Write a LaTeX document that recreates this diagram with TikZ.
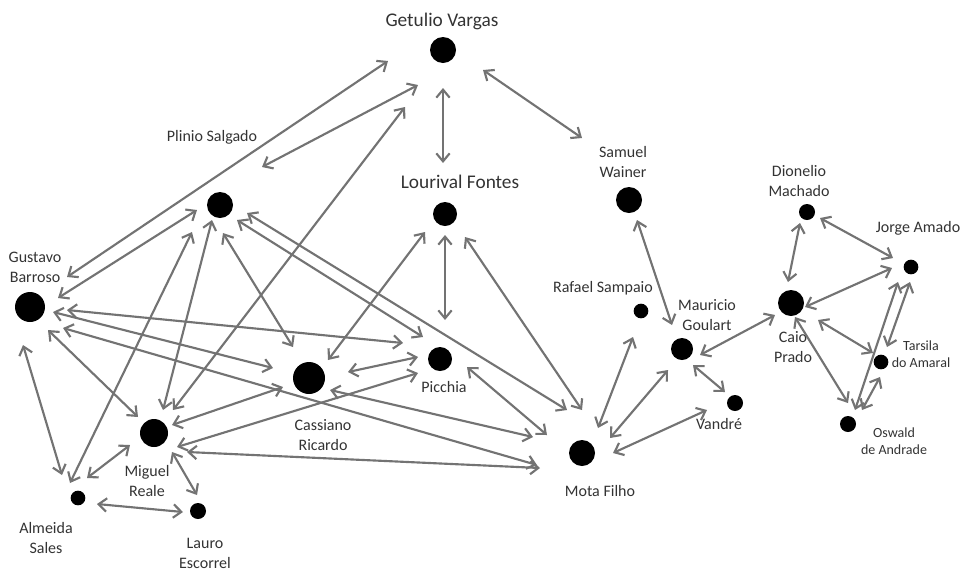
\documentclass[tikz,border=0pt]{standalone}
\usepackage{fontspec}
\setmainfont{Carlito}
\usetikzlibrary{arrows.meta,calc}
\definecolor{edgegray}{HTML}{737373}
\definecolor{txtgray}{HTML}{333333}
\begin{document}
\begin{tikzpicture}[x=0.75pt,y=-0.75pt,
  dot/.style={circle,fill=black,inner sep=0pt,minimum size=#1},
  lbl/.style={text=txtgray,font=\fontsize{12}{15}\selectfont,align=center,inner sep=0pt},
  big/.style={text=txtgray,font=\fontsize{14.5}{17}\selectfont,inner sep=0pt},
  small/.style={text=txtgray,font=\fontsize{10.5}{12.75}\selectfont,align=center,inner sep=0pt},
  bi/.style={draw=edgegray,line width=1.6pt,{Straight Barb[length=6pt,width=10pt]}-{Straight Barb[length=6pt,width=10pt]}}]
\useasboundingbox (0,0) rectangle (962,572);
% dots
\node[dot=19.5pt] (gv) at (443,50) {};
\node[dot=18pt]   (lf) at (445,214) {};
\node[dot=19.5pt] (ps) at (220,205) {};
\node[dot=22.5pt] (gb) at (30,307) {};
\node[dot=24pt]   (cr) at (309,378) {};
\node[dot=18pt]   (pi) at (440,359) {};
\node[dot=21pt]   (mr) at (154,433) {};
\node[dot=11pt]   (as) at (78,498) {};
\node[dot=12pt]   (le) at (198,511) {};
\node[dot=19.5pt] (mf) at (582,453) {};
\node[dot=19.5pt] (sw) at (629,200) {};
\node[dot=11pt]   (rs) at (641,311) {};
\node[dot=16.5pt] (mg) at (682,349) {};
\node[dot=12pt]   (va) at (735,403) {};
\node[dot=19.5pt] (cp) at (791,303) {};
\node[dot=12pt]   (dm) at (807,212) {};
\node[dot=11pt]   (ja) at (911,267) {};
\node[dot=11pt]   (ta) at (881,362) {};
\node[dot=12pt]   (od) at (848,424) {};
% labels
\node[big] (gvl) at (442,21) {Getulio Vargas};
\node[big] (lfl) at (460,182) {Lourival Fontes};
\node[lbl] (psl) at (212,137) {Plinio Salgado};
\node[lbl] (gbl) at (35,267) {Gustavo\\Barroso};
\node[lbl] (crl) at (323,435) {Cassiano\\Ricardo};
\node[lbl] (pil) at (444,387) {Picchia};
\node[lbl] (mrl) at (147,481) {Miguel\\Reale};
\node[lbl] (asl) at (46,538) {Almeida\\Sales};
\node[lbl] (lel) at (205,553) {Lauro\\Escorrel};
\node[lbl] (mfl) at (600,491) {Mota Filho};
\node[lbl] (swl) at (623,162) {Samuel\\Wainer};
\node[lbl] (rsl) at (603,288) {Rafael Sampaio};
\node[lbl] (mgl) at (707,315) {Mauricio\\Goulart};
\node[lbl] (val) at (719,424) {Vandré};
\node[lbl] (cpl) at (793,347) {Caio\\Prado};
\node[lbl] (dml) at (799,181) {Dionelio\\Machado};
\node[lbl] (jal) at (918,228) {Jorge Amado};
\node[small] (tal) at (921,354) {Tarsila\\do Amaral};
\node[small] (odl) at (894,441) {Oswald\\de Andrade};
% connectors
\draw[bi] ($(gv)+(0,38)$) -- ($(lf)+(-2,-51)$);
\draw[bi] ($(gv)+(40,20)$) -- ($(sw)+(-47,-62)$);
\draw[bi] ($(gv)+(-25,35)$) -- ($(ps)+(42,-38)$);
\draw[bi] ($(gv)+(-55,11)$) -- ($(gb)+(37,-30)$);
\draw[bi] ($(gv)+(-38,57)$) -- ($(mr)+(19,-23)$);
\draw[bi] ($(gb)+(28,-9)$) -- ($(ps)+(-23,5)$);
\draw[bi] ($(ps)+(-28,27)$) -- ($(as)+(-8,-15)$);
\draw[bi] ($(ps)+(-8,15)$) -- ($(mr)+(9,-23)$);
\draw[bi] ($(ps)+(3,28)$) -- ($(cr)+(-16,-31)$);
\draw[bi] ($(ps)+(17,15)$) -- ($(pi)+(-17,-22)$);
\draw[bi] ($(ps)+(27,8)$) -- ($(mf)+(-15,-43)$);
\draw[bi] ($(lf)+(-20,18)$) -- ($(cr)+(19,-18)$);
\draw[bi] ($(lf)+(0,21)$) -- ($(pi)+(5,-39)$);
\draw[bi] ($(lf)+(20,23)$) -- ($(mf)+(0,-43)$);
\draw[bi] ($(gb)+(37,3)$) -- ($(pi)+(-37,-16)$);
\draw[bi] ($(gb)+(23,5)$) -- ($(cr)+(-36,-10)$);
\draw[bi] ($(gb)+(33,21)$) -- ($(mf)+(-45,12)$);
\draw[bi] ($(gb)+(18,23)$) -- ($(mr)+(-16,-16)$);
\draw[bi] ($(gb)+(-7,38)$) -- ($(as)+(-16,-23)$);
\draw[bi] ($(cr)+(39,-6)$) -- ($(pi)+(-22,-2)$);
\draw[bi] ($(mr)+(23,14)$) -- ($(pi)+(-22,14)$);
\draw[bi] ($(mr)+(18,-8)$) -- ($(cr)+(-26,9)$);
\draw[bi] ($(mr)+(33,19)$) -- ($(mf)+(-42,15)$);
\draw[bi] ($(cr)+(21,12)$) -- ($(mf)+(-49,-16)$);
\draw[bi] ($(pi)+(27,8)$) -- ($(mf)+(-35,-18)$);
\draw[bi] ($(mr)+(-24,12)$) -- ($(as)+(9,-20)$);
\draw[bi] ($(mr)+(18,19)$) -- ($(le)+(-1,-16)$);
\draw[bi] ($(as)+(19,6)$) -- ($(le)+(-15,1)$);
\draw[bi] ($(sw)+(8,20)$) -- ($(mg)+(-10,-24)$);
\draw[bi] ($(rs)+(-8,26)$) -- ($(mf)+(16,-25)$);
\draw[bi] ($(mg)+(-14,21)$) -- ($(mf)+(28,-15)$);
\draw[bi] ($(va)+(-28,7)$) -- ($(mf)+(31,0)$);
\draw[bi] ($(mg)+(11,16)$) -- ($(va)+(-10,-11)$);
\draw[bi] ($(mg)+(18,6)$) -- ($(cp)+(-16,12)$);
\draw[bi] ($(cp)+(-3,-21)$) -- ($(dm)+(-7,11)$);
\draw[bi] ($(dm)+(13,6)$) -- ($(ja)+(-18,-9)$);
\draw[bi] ($(cp)+(14,4)$) -- ($(ja)+(-19,1)$);
\draw[bi] ($(cp)+(27,17)$) -- ($(ta)+(-8,-9)$);
\draw[bi] ($(cp)+(4,14)$) -- ($(od)+(0,-21)$);
\draw[bi] ($(ja)+(-13,15)$) -- ($(od)+(7,-14)$);
\draw[bi] ($(ja)+(-1,15)$) -- ($(ta)+(6,-15)$);
\draw[bi] ($(ta)+(-1,15)$) -- ($(od)+(14,-14)$);
\end{tikzpicture}
\end{document}
